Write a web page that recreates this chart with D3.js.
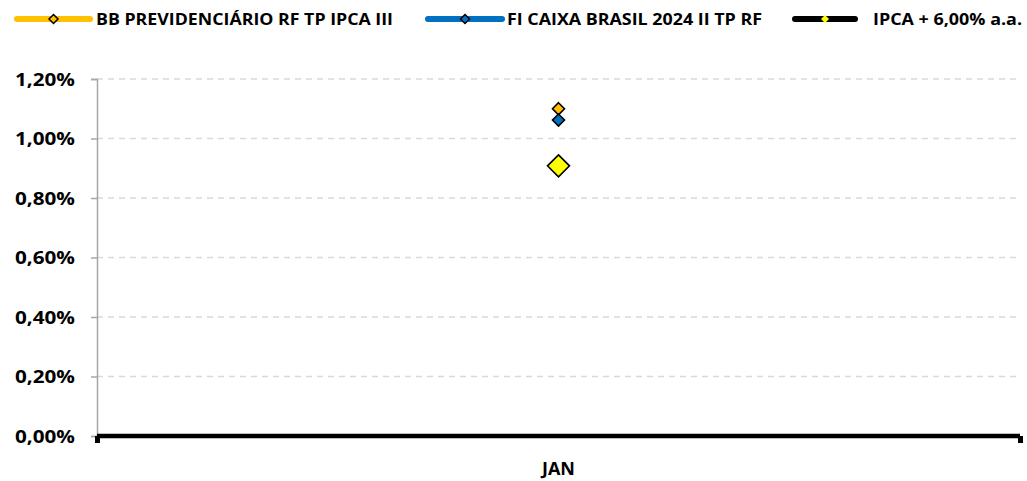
<!DOCTYPE html>
<html>
<head>
<meta charset="utf-8">
<script src="https://cdn.jsdelivr.net/npm/d3@7"></script>
<style>
  body { margin: 0; background: #fff; }
  text { font-family: "Open Sans", sans-serif; font-weight: bold; fill: #000; }
</style>
</head>
<body>
<div id="mainDiv"></div>
<script>
var categories = ["JAN"];
var seriesNames = ["BB PREVIDENCIÁRIO RF TP IPCA III", "FI CAIXA BRASIL 2024 II TP RF", "IPCA + 6,00% a.a."];
var bbValues = [1.10];
var caixaValues = [1.062];
var ipcaValues = [0.908];
var yTicks = [0, 0.2, 0.4, 0.6, 0.8, 1.0, 1.2];

var width = 1027, height = 481;
var margin = { left: 97, right: 7, top: 79, bottom: 45 };

var svg = d3.select("#mainDiv").append("svg").attr("width", width).attr("height", height);

var x = d3.scalePoint().domain(categories).range([margin.left, width - margin.right]).padding(0.5);
var y = d3.scaleLinear().domain([0, 1.2]).range([height - margin.bottom, margin.top]);

var fmt = function(d) { return d3.format(".2f")(d).replace(".", ",") + "%"; };

// gridlines
svg.append("g").selectAll("line").data(yTicks.slice(1)).enter().append("line")
    .attr("x1", margin.left).attr("x2", width - margin.right)
    .attr("y1", function(d) { return y(d); }).attr("y2", function(d) { return y(d); })
    .attr("stroke", "#d9d9d9").attr("stroke-width", 1.5).attr("stroke-dasharray", "6,5");

// y axis
var yAxis = svg.append("g").attr("transform", "translate(" + margin.left + ",0)")
    .call(d3.axisLeft(y).tickValues(yTicks).tickFormat(fmt).tickSize(6).tickPadding(16));
yAxis.select(".domain").attr("stroke", "#a6a6a6").attr("stroke-width", 1.5);
yAxis.selectAll(".tick line").attr("stroke", "#a6a6a6").attr("stroke-width", 1.5);
yAxis.selectAll("text").attr("font-size", 18).attr("dy", "0.36em")
    .attr("textLength", 60).attr("lengthAdjust", "spacingAndGlyphs")
    .style("font-family", "'Open Sans', sans-serif").style("font-weight", "bold");

// x axis (thick black baseline)
var x0 = margin.left, x1 = width - margin.right, yb = y(0);
svg.append("line").attr("x1", x0).attr("x2", x1).attr("y1", yb).attr("y2", yb)
    .attr("stroke", "#000").attr("stroke-width", 4.5);
svg.append("rect").attr("x", x0 - 2).attr("y", yb).attr("width", 5).attr("height", 7).attr("fill", "#000");
svg.append("rect").attr("x", x1 - 2).attr("y", yb).attr("width", 5).attr("height", 7).attr("fill", "#000");
svg.selectAll(".xlab").data(categories).enter().append("text")
    .attr("x", function(d) { return x(d); }).attr("y", 475)
    .attr("text-anchor", "middle").attr("font-size", 18).text(function(d) { return d; });

var diamond = function(r) { return "M0," + (-r) + "L" + r + ",0L0," + r + "L" + (-r) + ",0Z"; };

var series = [
  { name: seriesNames[0], values: bbValues, color: "#ffc000", r: 6 },
  { name: seriesNames[1], values: caixaValues, color: "#0070c0", r: 6 },
  { name: seriesNames[2], values: ipcaValues, color: "#ffff00", r: 11 }
];

series.forEach(function(s) {
  svg.append("g").selectAll("path").data(s.values).enter().append("path")
      .attr("d", diamond(s.r))
      .attr("transform", function(d, i) { return "translate(" + x(categories[i]) + "," + y(d) + ")"; })
      .attr("fill", s.color).attr("stroke", "#000").attr("stroke-width", 1.6);
});

// legend
var legend = [
  { lx: 17, lw: 73, line: "#ffc000", fill: "#ffc000", r: 4.5, tx: 96, tl: 297 },
  { lx: 428, lw: 74, line: "#0070c0", fill: "#0070c0", r: 4.5, tx: 507, tl: 255 },
  { lx: 795, lw: 60, line: "#000000", fill: "#ffff00", r: 4, tx: 873, tl: 149 }
];
legend.forEach(function(l, i) {
  svg.append("line").attr("x1", l.lx).attr("x2", l.lx + l.lw).attr("y1", 19).attr("y2", 19)
      .attr("stroke", l.line).attr("stroke-width", 6).attr("stroke-linecap", "round");
  svg.append("path").attr("d", diamond(l.r))
      .attr("transform", "translate(" + (l.lx + l.lw / 2) + ",19)")
      .attr("fill", l.fill).attr("stroke", i == 2 ? "none" : "#000").attr("stroke-width", 1.5);
  svg.append("text").attr("x", l.tx).attr("y", 25).attr("font-size", 15.5)
      .attr("textLength", l.tl).attr("lengthAdjust", "spacingAndGlyphs").text(seriesNames[i]);
});
</script>
</body>
</html>
